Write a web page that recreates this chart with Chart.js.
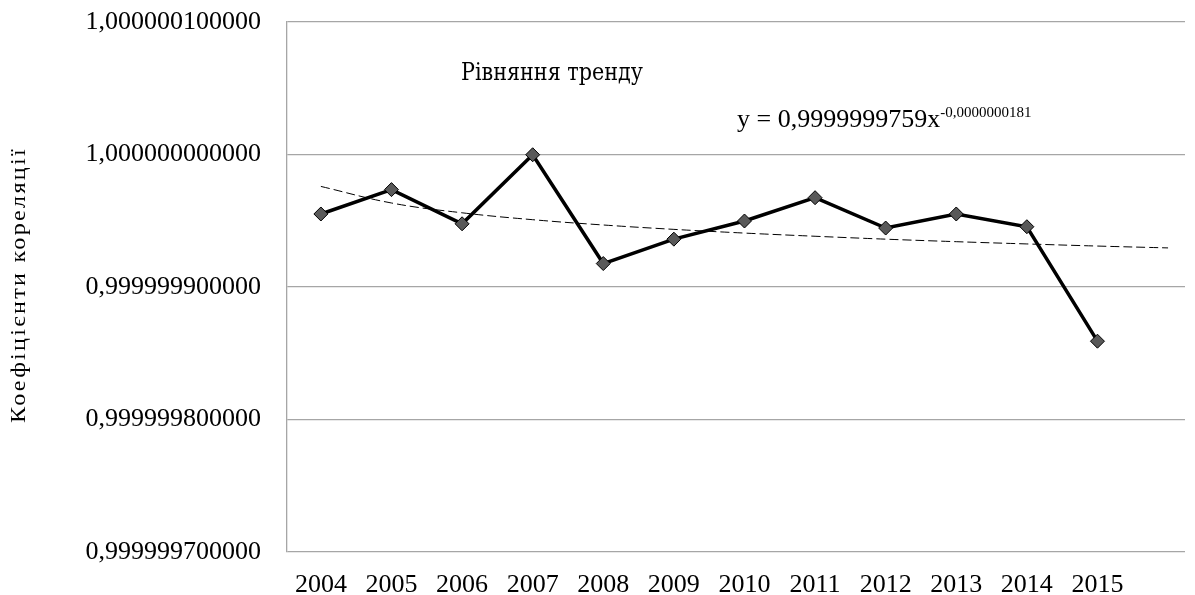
<!DOCTYPE html>
<html>
<head>
<meta charset="utf-8">
<script src="https://cdn.jsdelivr.net/npm/chart.js@4/dist/chart.umd.min.js"></script>
<style>
  body { margin: 0; background: #fff; }
</style>
</head>
<body>
<canvas id="corrChart" width="1195" height="595"></canvas>
<script>
// years on the x axis
const years = ['2004', '2005', '2006', '2007', '2008', '2009', '2010', '2011', '2012', '2013', '2014', '2015'];
// correlation coefficients
const coefs = [0.9999999551, 0.9999999735, 0.9999999477, 0.9999999998, 0.9999999177, 0.9999999361,
               0.9999999498, 0.9999999674, 0.9999999445, 0.9999999551, 0.9999999455, 0.9999998591];
// power trend line, one period forward
const trend = [0.9999999759, 0.9999999634, 0.9999999560, 0.9999999508, 0.9999999468, 0.9999999435, 0.9999999407,
               0.9999999383, 0.9999999361, 0.9999999342, 0.9999999325, 0.9999999309, 0.9999999295];
const yTicks = [0.9999997, 0.9999998, 0.9999999, 1.0, 1.0000001];

const axisTitle = 'Коефіцієнти кореляції';
const trendTitle = 'Рівняння тренду';
const eqMain = 'y = 0,9999999759x';
const eqExp = '-0,0000000181';

// draw text squeezed/stretched to a given width
function fitText(ctx, text, x, y, width) {
    const w = ctx.measureText(text).width;
    ctx.save();
    ctx.translate(x, y);
    ctx.scale(width / w, 1);
    ctx.fillText(text, 0, 0);
    ctx.restore();
}

const textPlugin = {
    id: 'texts',
    afterDraw(chart) {
        const ctx = chart.ctx;
        ctx.save();
        ctx.fillStyle = '#000';
        ctx.textBaseline = 'alphabetic';
        ctx.textAlign = 'left';

        // y axis title
        ctx.save();
        ctx.translate(25, 423);
        ctx.rotate(-Math.PI / 2);
        ctx.font = '21px "Liberation Serif"';
        ctx.letterSpacing = '2px';
        fitText(ctx, axisTitle, 0, 0, 276);
        ctx.restore();

        // "Рівняння тренду" - narrow slab serif look
        ctx.font = '25px "DejaVu Serif"';
        fitText(ctx, trendTitle, 461, 80, 182);

        // equation with superscript
        ctx.font = '26px "Liberation Serif"';
        ctx.fillText(eqMain, 737, 127);
        const mw = ctx.measureText(eqMain).width;
        ctx.font = '15px "Liberation Serif"';
        ctx.fillText(eqExp, 737 + mw, 117);

        ctx.restore();
    }
};

new Chart(document.getElementById('corrChart').getContext('2d'), {
    type: 'line',
    data: {
        datasets: [{
            data: coefs.map((v, i) => ({ x: i + 1, y: v })),
            borderColor: '#000',
            borderWidth: 3.5,
            pointStyle: 'rectRot',
            pointRadius: 7,
            pointBackgroundColor: '#595959',
            pointBorderColor: '#000',
            pointBorderWidth: 1,
            tension: 0,
            order: 0
        }, {
            data: trend.map((v, i) => ({ x: i + 1, y: v })),
            borderColor: '#000',
            borderWidth: 1,
            borderDash: [9, 4],
            pointRadius: 0,
            tension: 0.4,
            order: 1
        }]
    },
    options: {
        responsive: false,
        animation: false,
        layout: { padding: { top: 22, right: 10, left: 0, bottom: 0 } },
        plugins: {
            legend: { display: false },
            tooltip: { enabled: false }
        },
        scales: {
            x: {
                type: 'linear',
                min: 0.52,
                max: 13.24,
                afterFit: s => { s.height = 43; s.paddingLeft = 0; s.paddingRight = 0; },
                afterBuildTicks: s => { s.ticks = years.map((y, i) => ({ value: i + 1 })); },
                grid: { display: false },
                border: { display: false },
                ticks: {
                    padding: 10,
                    maxRotation: 0,
                    autoSkip: false,
                    color: '#000',
                    font: { family: '"Liberation Serif"', size: 26 },
                    callback: v => years[v - 1] || ''
                }
            },
            y: {
                min: 0.9999997,
                max: 1.0000001,
                afterFit: s => { s.width = 287; s.paddingTop = 0; s.paddingBottom = 0; },
                afterBuildTicks: s => { s.ticks = yTicks.map(v => ({ value: v })); },
                grid: { color: '#a6a6a6', lineWidth: 1.3, drawTicks: false },
                border: { color: '#a6a6a6', width: 1.3 },
                ticks: {
                    padding: 26,
                    color: '#000',
                    font: { family: '"Liberation Serif"', size: 26 },
                    callback: v => v.toFixed(12).replace('.', ',')
                }
            }
        }
    },
    plugins: [textPlugin]
});
</script>
</body>
</html>
